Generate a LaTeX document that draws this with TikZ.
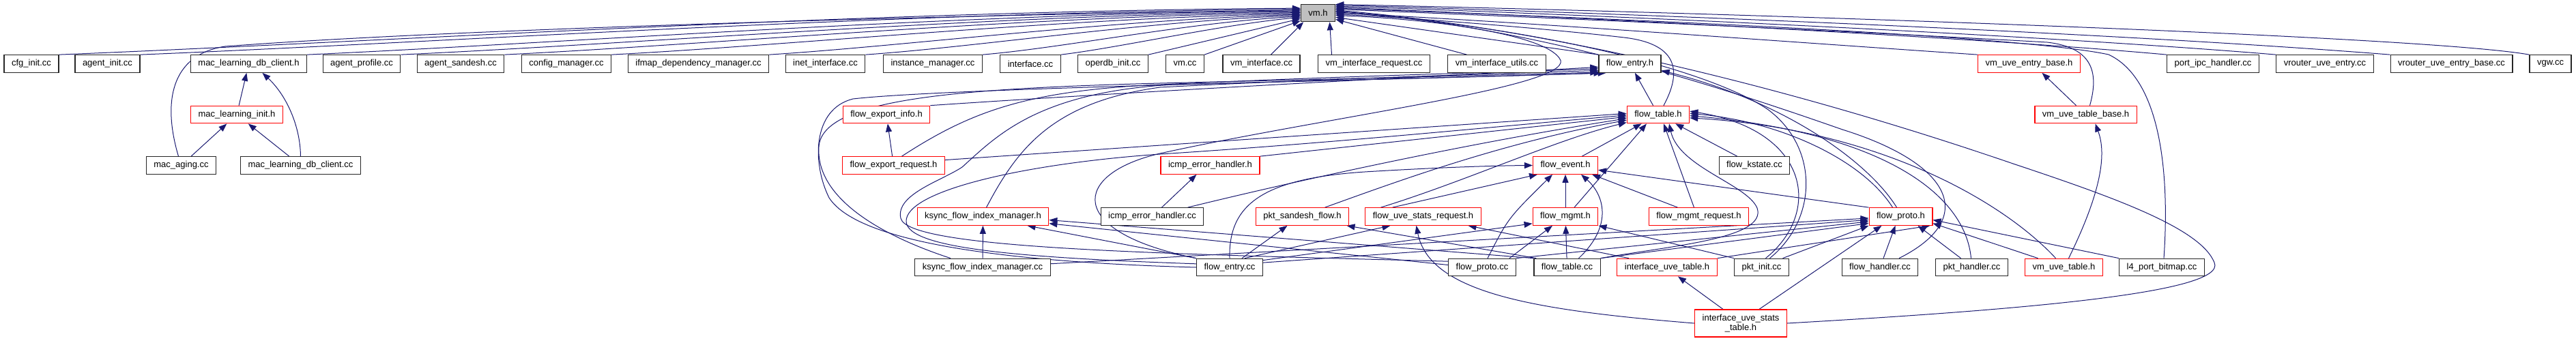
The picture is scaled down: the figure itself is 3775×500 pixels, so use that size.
\documentclass[tikz,border=0pt]{standalone}
\usepackage{fontspec}
\setmainfont{Liberation Sans}
\usetikzlibrary{arrows.meta,backgrounds}
\definecolor{edgeblue}{RGB}{25,25,112}
\definecolor{rootgray}{RGB}{191,191,191}
\newcommand{\fsize}{\fontsize{13}{14.5}\selectfont}

\begin{document}
\begin{tikzpicture}[
    x=1pt, y=-1pt,
    box/.style={draw=#1, line width=1.2pt, fill=white, minimum height=25.5pt,
                inner xsep=11pt, inner ysep=0pt, align=center, font=\fsize},
    box/.default=black!85,
    hbox/.style={box=red},
    root/.style={box, fill=rootgray},
    arr/.style={->, >={Triangle[length=12pt,width=9pt]}, draw=edgeblue, line width=1pt},
]
\useasboundingbox (0,0) rectangle (3775,500);

% the included file
\node[root] (vmh) at (1931.5,19) {vm.h};

% first row
\node[box]  (cfginit)        at (46,93.5)     {cfg\_init.cc};
\node[box]  (agentinit)      at (157.5,93.5)  {agent\_init.cc};
\node[box]  (mldch)          at (364.5,93.5)  {mac\_learning\_db\_client.h};
\node[box]  (agentprof)      at (530,93.5)    {agent\_profile.cc};
\node[box]  (agentsand)      at (675,93.5)    {agent\_sandesh.cc};
\node[box]  (cfgmgr)         at (830,93.5)    {config\_manager.cc};
\node[box]  (ifmapdm)        at (1023.5,93.5) {ifmap\_dependency\_manager.cc};
\node[box]  (inetintf)       at (1209.5,93.5) {inet\_interface.cc};
\node[box]  (instmgr)        at (1367,93.5)   {instance\_manager.cc};
\node[box]  (intfcc)         at (1510,93.5)   {interface.cc};
\node[box]  (operdb)         at (1631,93.5)   {operdb\_init.cc};
\node[box]  (vmcc)           at (1736.5,93.5) {vm.cc};
\node[box]  (vmintf)         at (1848.5,93.5) {vm\_interface.cc};
\node[box]  (vmintfreq)      at (2013.5,93.5) {vm\_interface\_request.cc};
\node[box]  (vmintfutil)     at (2193.5,93.5) {vm\_interface\_utils.cc};
\node[box]  (flowentryh)     at (2388.5,93.5) {flow\_entry.h};
\node[hbox] (vmuveentrybase) at (2973.5,93.5) {vm\_uve\_entry\_base.h};
\node[box]  (portipc)        at (3243,93.5)   {port\_ipc\_handler.cc};
\node[box]  (vrouteruve)     at (3407,93.5)   {vrouter\_uve\_entry.cc};
\node[box]  (vrouteruvebase) at (3592.5,93.5) {vrouter\_uve\_entry\_base.cc};
\node[box]  (vgw)            at (3737.5,93.5) {vgw.cc};

% second row
\node[hbox] (mlinit)         at (347,168)     {mac\_learning\_init.h};
\node[hbox] (fexpinfo)       at (1299,168)    {flow\_export\_info.h};
\node[hbox] (flowtableh)     at (2430,168)    {flow\_table.h};
\node[hbox] (vmuvetablebase) at (3056.5,168)  {vm\_uve\_table\_base.h};

% third row
\node[box]  (macaging)       at (265.5,242.5) {mac\_aging.cc};
\node[box]  (mldbcc)         at (440.5,242.5) {mac\_learning\_db\_client.cc};
\node[hbox] (fexpreq)        at (1309.5,242.5) {flow\_export\_request.h};
\node[hbox] (icmph)          at (1773.5,242.5) {icmp\_error\_handler.h};
\node[hbox] (flowevent)      at (2294,242.5)  {flow\_event.h};
\node[box]  (flowkstate)     at (2571,242.5)  {flow\_kstate.cc};

% fourth row
\node[hbox] (ksyncfimh)      at (1440.5,317.5) {ksync\_flow\_index\_manager.h};
\node[box]  (icmpcc)         at (1688.5,317.5) {icmp\_error\_handler.cc};
\node[hbox] (pktsandesh)     at (1908.5,317.5) {pkt\_sandesh\_flow.h};
\node[hbox] (flowuvestats)   at (2085.5,317.5) {flow\_uve\_stats\_request.h};
\node[hbox] (flowmgmt)       at (2294,317.5)  {flow\_mgmt.h};
\node[hbox] (flowmgmtreq)    at (2489.5,317.5) {flow\_mgmt\_request.h};
\node[hbox] (flowprotoh)     at (2785.5,317.5) {flow\_proto.h};

% fifth row
\node[box]  (ksynccc)        at (1440,392)    {ksync\_flow\_index\_manager.cc};
\node[box]  (flowentrycc)    at (1802,392)    {flow\_entry.cc};
\node[box]  (flowprotocc)    at (2172,392)    {flow\_proto.cc};
\node[box]  (flowtablecc)    at (2296.5,392)  {flow\_table.cc};
\node[hbox] (ifuvetable)     at (2443,392)    {interface\_uve\_table.h};
\node[box]  (pktinit)        at (2581.5,392)  {pkt\_init.cc};
\node[box]  (flowhandler)    at (2755,392)    {flow\_handler.cc};
\node[box]  (pkthandler)     at (2889.5,392)  {pkt\_handler.cc};
\node[hbox] (vmuvetable)     at (3024.5,392)  {vm\_uve\_table.h};
\node[box]  (l4bitmap)       at (3168,392)    {l4\_port\_bitmap.cc};

% last row
\node[hbox, minimum height=40pt] (ifuvestats) at (2551,474) {interface\_uve\_stats\\\_table.h};

\begin{scope}[on background layer]
% into vm.h
\draw[arr] (cfginit.north east) .. controls (540,62) and (1270,16) .. (vmh.165);
\draw[arr] (agentinit.north east) .. controls (630,63) and (1310,18) .. (vmh.168);
\draw[arr] ([xshift=-4pt]macaging.north) .. controls (238,150) and (250,80) .. (330,68)
           .. controls (700,40) and (1500,20) .. (vmh.171);
\draw[arr] (mldch.north east) .. controls (810,64) and (1400,20) .. (vmh.173);
\draw[arr] (agentprof.north east) .. controls (920,65) and (1450,22) .. (vmh.176);
\draw[arr] (agentsand.north east) .. controls (1030,66) and (1500,24) .. (vmh.179);
\draw[arr] (cfgmgr.north east) .. controls (1150,67) and (1550,27) .. (vmh.182);
\draw[arr] (ifmapdm.north east) .. controls (1320,68) and (1630,29) .. (vmh.185);
\draw[arr] (inetintf.north east) .. controls (1430,69) and (1680,31) .. (vmh.188);
\draw[arr] (instmgr.north east) .. controls (1560,70) and (1740,33) .. (vmh.191);
\draw[arr] (intfcc.north east) .. controls (1640,70) and (1790,36) .. (vmh.194);
\draw[arr] (operdb.north east) -- (vmh.198);
\draw[arr] (vmcc.north east) -- (vmh.204);
\draw[arr] ([xshift=14pt]vmintf.north) -- (vmh.212);
\draw[arr] ([xshift=-62pt]vmintfreq.north) -- (vmh.322);
\draw[arr] ([xshift=-44pt]vmintfutil.north) -- (vmh.340);
\draw[arr] (flowentryh.north west) -- (vmh.346);
\draw[arr] (flowentrycc.north west) .. controls (1560,340) and (1570,255) .. (1700,225)
           .. controls (1950,170) and (2320,125) .. (2285,85)
           .. controls (2260,50) and (2100,28) .. (vmh.352);
\draw[arr] ([xshift=8pt]flowtableh.north) .. controls (2462,110) and (2465,65) .. (2380,55)
           .. controls (2250,40) and (2050,25) .. (vmh.356);
\draw[arr] (vmuveentrybase.north west) .. controls (2600,60) and (2200,30) .. (vmh.0);
\draw[arr] ([xshift=12pt]pktinit.north) .. controls (2665,320) and (2665,215) .. (2590,160)
           .. controls (2500,100) and (2250,40) .. (vmh.3);
\draw[arr] ([xshift=28pt]flowhandler.north) .. controls (2900,320) and (2860,240) .. (2700,190)
           .. controls (2500,120) and (2250,40) .. (vmh.6);
\draw[arr] (ifuvestats.east) .. controls (2950,455) and (3265,430) .. (3245,385)
           .. controls (3225,335) and (3100,290) .. (2950,240)
           .. controls (2600,120) and (2250,40) .. (vmh.9);
\draw[arr] ([xshift=6pt]vmuvetablebase.north) .. controls (3075,110) and (3070,70) .. (3000,62)
           .. controls (2700,45) and (2250,25) .. (vmh.12);
\draw[arr] ([xshift=3pt]l4bitmap.north) .. controls (3180,250) and (3165,115) .. (3090,80)
           .. controls (2950,50) and (2300,25) .. (vmh.15);
\draw[arr] (portipc.north west) .. controls (2900,55) and (2300,25) .. (vmh.18);
\draw[arr] (vrouteruve.north west) .. controls (3000,52) and (2350,22) .. (vmh.21);
\draw[arr] (vrouteruvebase.north west) .. controls (3100,48) and (2400,20) .. (vmh.24);
\draw[arr] (vgw.north west) .. controls (3550,52) and (2500,18) .. (vmh.26);

% mac learning
\draw[arr] (mlinit) -- (mldch);
\draw[arr] (mldbcc.north) .. controls (440,185) and (420,140) .. ([xshift=20pt]mldch.south);
\draw[arr] (macaging) -- (mlinit);
\draw[arr] (mldbcc) -- (mlinit);

% into flow_entry.h
\draw[arr] (flowtableh) -- (flowentryh);
\draw[arr] (fexpinfo.north east) .. controls (1700,132) and (2100,112) .. (flowentryh.186);
\draw[arr] ([xshift=12pt]fexpreq.north) .. controls (1420,165) and (1500,135) .. (1680,125)
           .. controls (1950,112) and (2200,106) .. (flowentryh.189);
\draw[arr] ([xshift=5pt]ksyncfimh.north) .. controls (1490,220) and (1540,150) .. (1700,128)
           .. controls (1950,115) and (2200,108) .. (flowentryh.192);
\draw[arr] ([xshift=-47pt]ksynccc.north) .. controls (1290,345) and (1195,290) .. (1200,215)
           .. controls (1205,145) and (1400,130) .. (1700,122)
           .. controls (1950,116) and (2200,110) .. (flowentryh.195);
\draw[arr] (flowentrycc.west) .. controls (1500,385) and (1260,360) .. (1215,290)
           .. controls (1190,240) and (1190,160) .. (1250,145)
           .. controls (1400,128) and (2100,116) .. (flowentryh.198);
\draw[arr] (flowprotocc.170) .. controls (1700,372) and (1330,365) .. (1320,320)
           .. controls (1312,285) and (1380,265) .. (1410,245)
           .. controls (1460,200) and (1520,135) .. (1720,124)
           .. controls (1950,118) and (2200,112) .. (flowentryh.201);
\draw[arr] ([xshift=-6pt]flowprotoh.north) .. controls (2740,240) and (2620,150) .. (flowentryh.348);

% flow export
\draw[arr] (fexpreq) -- (fexpinfo);
\draw[arr] (fexpreq.6) -- (flowtableh.178);

% into flow_table.h
\draw[arr] (flowentrycc.174) .. controls (1500,378) and (1330,365) .. (1328,325)
           .. controls (1326,280) and (1500,240) .. (1700,226)
           .. controls (1950,210) and (2200,185) .. (flowtableh.181);
\draw[arr] (icmph.north east) -- (flowtableh.184);
\draw[arr] ([xshift=52pt]icmpcc.north) .. controls (1900,265) and (2150,210) .. (flowtableh.187);
\draw[arr] ([xshift=33pt]pktsandesh.north) .. controls (2050,265) and (2200,210) .. (flowtableh.190);
\draw[arr] ([xshift=-62pt]flowuvestats.north) .. controls (2150,265) and (2280,205) .. (flowtableh.194);
\draw[arr] (flowevent) -- (flowtableh);
\draw[arr] ([xshift=13pt]flowmgmt.north) -- ([xshift=-17pt]flowtableh.south);
\draw[arr] ([xshift=-7pt]flowmgmtreq.north) -- ([xshift=8pt]flowtableh.south);
\draw[arr] (flowkstate) -- (flowtableh);
\draw[arr] (flowtablecc.north east) .. controls (2450,360) and (2590,350) .. (2575,305)
           .. controls (2560,270) and (2460,245) .. ([xshift=16pt]flowtableh.south);
\draw[arr] ([xshift=6pt]pktinit.north) .. controls (2672,310) and (2650,190) .. (flowtableh.6);
\draw[arr] ([xshift=-12pt]flowprotoh.north) .. controls (2730,235) and (2610,178) .. (flowtableh.2);
\draw[arr] ([xshift=-1pt]pkthandler.north) .. controls (2880,285) and (2760,195) .. (flowtableh.358);
\draw[arr] ([xshift=-12pt]vmuvetable.north) .. controls (2940,300) and (2760,190) .. (flowtableh.354);

% into flow_event.h
\draw[arr] (flowentrycc.north) .. controls (1800,300) and (1850,262) .. (2000,252)
           .. controls (2100,246) and (2180,243) .. (flowevent.west);
\draw[arr] ([xshift=-45pt]flowuvestats.north) -- ([xshift=-41pt]flowevent.south);
\draw[arr] ([xshift=8pt]flowprotocc.north) .. controls (2210,320) .. ([xshift=-19pt]flowevent.south);
\draw[arr] (flowmgmt) -- (flowevent);
\draw[arr] ([xshift=17pt]flowtablecc.north) .. controls (2365,330) and (2350,285) .. ([xshift=23pt]flowevent.south);
\draw[arr] ([xshift=-31pt]flowmgmtreq.north) -- ([xshift=39pt]flowevent.south);
\draw[arr] (flowprotoh.north west) -- (flowevent.352);

% into flow_mgmt.h
\draw[arr] (flowentrycc.12) -- (flowmgmt.192);
\draw[arr] ([xshift=40pt]flowprotocc.north) -- ([xshift=-19pt]flowmgmt.south);
\draw[arr] (flowtablecc) -- (flowmgmt);
\draw[arr] (pktinit.north west) -- (flowmgmt.south east);

% into flow_uve_stats_request.h
\draw[arr] ([xshift=22pt]flowentrycc.north) -- ([xshift=-48pt]flowuvestats.south);
\draw[arr] ([xshift=-56pt]ifuvetable.north) -- ([xshift=66pt]flowuvestats.south);
\draw[arr] (ifuvestats.west) .. controls (2250,455) and (2095,430) .. ([xshift=-10pt]flowuvestats.south);

% into pkt_sandesh_flow.h, icmp_error_handler.h, ksync_flow_index_manager.h
\draw[arr] ([xshift=18pt]flowentrycc.north) -- ([xshift=-22pt]pktsandesh.south);
\draw[arr] ([xshift=4pt]flowtablecc.north west) -- ([xshift=65pt]pktsandesh.south);
\draw[arr] ([xshift=14pt]icmpcc.north) -- ([xshift=-20pt]icmph.south);
\draw[arr] (ksynccc) -- (ksyncfimh);
\draw[arr] (flowentrycc.north west) -- ([xshift=65pt]ksyncfimh.south);
\draw[arr] (flowprotocc.176) -- (ksyncfimh.354);
\draw[arr] (flowtablecc.north west) -- (ksyncfimh.357);

% into flow_proto.h
\draw[arr] (ksynccc.3) -- (flowprotoh.183);
\draw[arr] (flowentrycc.8) -- (flowprotoh.186);
\draw[arr] (flowprotocc.north east) -- (flowprotoh.189);
\draw[arr] (flowtablecc.north east) -- (flowprotoh.192);
\draw[arr] (ifuvetable.north east) -- ([xshift=-4pt]flowprotoh.south east);
\draw[arr] ([xshift=31pt]pktinit.north) -- (flowprotoh.south west);
\draw[arr] ([xshift=27pt]ifuvestats.north) -- ([xshift=-28pt]flowprotoh.south);
\draw[arr] ([xshift=5pt]flowhandler.north) -- ([xshift=-8pt]flowprotoh.south);
\draw[arr] ([xshift=-16pt]pkthandler.north) -- ([xshift=25pt]flowprotoh.south);
\draw[arr] ([xshift=-38pt]vmuvetable.north) -- (flowprotoh.348);
\draw[arr] (l4bitmap.north west) -- (flowprotoh.354);

% uve tables
\draw[arr] ([xshift=-26pt]ifuvestats.north) -- ([xshift=16pt]ifuvetable.south);
\draw[arr] ([xshift=7pt]vmuvetable.north) .. controls (3085,270) and (3085,220) .. ([xshift=14pt]vmuvetablebase.south);
\draw[arr] ([xshift=-14pt]vmuvetablebase.north) -- ([xshift=19pt]vmuveentrybase.south);
\end{scope}
\end{tikzpicture}
\end{document}
